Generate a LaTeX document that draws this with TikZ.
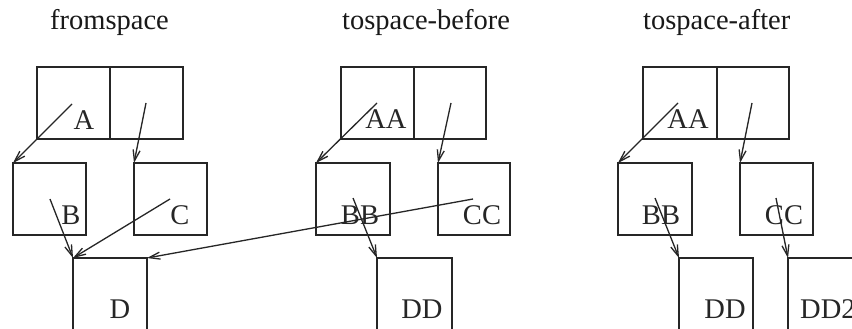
\documentclass[tikz,border=0pt]{standalone}
\usepackage{fontspec}
\setmainfont{Liberation Serif}
\usetikzlibrary{arrows.meta}
\begin{document}
\begin{tikzpicture}[x=1pt,y=-1pt,
  gcbox/.style={draw=black!85, line width=1.9pt, rectangle, inner sep=0pt, outer sep=0pt, anchor=north west},
  lab/.style={inner sep=0pt, font=\fontsize{28.5}{30}\selectfont, text=black!85},
  ttl/.style={inner sep=0pt, anchor=base west, font=\fontsize{28.5}{30}\selectfont, text=black!90},
  ptr/.style={draw=black!85, line width=1.3pt, -{Straight Barb[length=11pt,width=7pt,line width=1.3pt]}}]
\useasboundingbox (0,0) rectangle (852,329);
\clip (0,0) rectangle (852,329);
\fill[white] (0,0) rectangle (852,329);
% titles
\node[ttl] (t1) at (50,30) {fromspace};
\node[ttl] (t2) at (342,30) {tospace-before};
\node[ttl] (t3) at (643,30) {tospace-after};
% ---- fromspace
\node[gcbox, minimum width=73pt, minimum height=72pt] (L1) at (37,67) {};
\node[gcbox, minimum width=73pt, minimum height=72pt] (L2) at (110,67) {};
\node[gcbox, minimum width=73pt, minimum height=72pt] (B) at (13,163) {};
\node[gcbox, minimum width=73pt, minimum height=72pt] (C) at (134,163) {};
\node[gcbox, minimum width=74pt, minimum height=100pt] (D) at (73,258) {};
\node[lab] (lA) at (84,120) {A};
\node[lab] (lB) at (71,215) {B};
\node[lab] (lC) at (180,215) {C};
\node[lab] (lD) at (120,309) {D};
% ---- tospace-before
\node[gcbox, minimum width=73pt, minimum height=72pt] (M1) at (341,67) {};
\node[gcbox, minimum width=72pt, minimum height=72pt] (M2) at (414,67) {};
\node[gcbox, minimum width=74pt, minimum height=72pt] (BB) at (316,163) {};
\node[gcbox, minimum width=72pt, minimum height=72pt] (CC) at (438,163) {};
\node[gcbox, minimum width=75pt, minimum height=100pt] (DD) at (377,258) {};
\node[lab] (lAA) at (386,119) {AA};
\node[lab] (lBB) at (360,215) {BB};
\node[lab] (lCC) at (482,215) {CC};
\node[lab] (lDD) at (422,309) {DD};
% ---- tospace-after
\node[gcbox, minimum width=74pt, minimum height=72pt] (R1) at (643,67) {};
\node[gcbox, minimum width=72pt, minimum height=72pt] (R2) at (717,67) {};
\node[gcbox, minimum width=74pt, minimum height=72pt] (BBr) at (618,163) {};
\node[gcbox, minimum width=73pt, minimum height=72pt] (CCr) at (740,163) {};
\node[gcbox, minimum width=74pt, minimum height=100pt] (DDr) at (679,258) {};
\node[gcbox, minimum width=100pt, minimum height=100pt] (DD2) at (788,258) {};
\node[lab] (lAAr) at (688,119) {AA};
\node[lab] (lBBr) at (661,215) {BB};
\node[lab] (lCCr) at (784,215) {CC};
\node[lab] (lDDr) at (725,309) {DD};
\node[lab, anchor=west] (lDD2) at (800,309) {DD2};
% pointer origins
\coordinate (pA) at (72,104);
\coordinate (pL2) at (146,103);
\coordinate (pB) at (50,199);
\coordinate (pC) at (170,199);
\coordinate (pAA) at (377,103);
\coordinate (pM2) at (451,103);
\coordinate (pBB) at (353,198);
\coordinate (pCC) at (473,199);
\coordinate (pAAr) at (678,103);
\coordinate (pR2) at (752,103);
\coordinate (pBBr) at (655,198);
\coordinate (pCCr) at (776,198);
% pointers
\draw[ptr] (pA) -- (B.north west);
\draw[ptr] (pL2) -- (C.north west);
\draw[ptr] (pB) -- (D.north west);
\draw[ptr] (pC) -- (D.north west);
\draw[ptr] (pAA) -- (BB.north west);
\draw[ptr] (pM2) -- (CC.north west);
\draw[ptr] (pBB) -- (DD.north west);
\draw[ptr] (pCC) -- (D.north east);
\draw[ptr] (pAAr) -- (BBr.north west);
\draw[ptr] (pR2) -- (CCr.north west);
\draw[ptr] (pBBr) -- (DDr.north west);
\draw[ptr] (pCCr) -- (DD2.north west);
\end{tikzpicture}
\end{document}
